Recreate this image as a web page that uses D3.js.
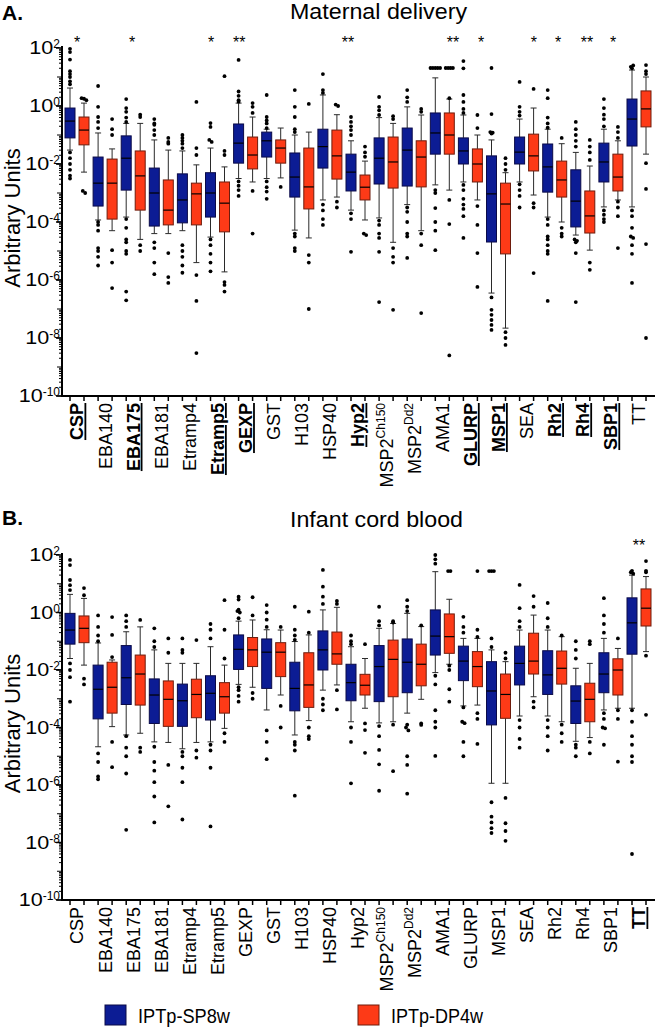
<!DOCTYPE html>
<html><head><meta charset="utf-8">
<script src="https://cdn.jsdelivr.net/npm/d3@7"></script>
<style>
body{margin:0;background:#fff;}
svg{display:block;font-family:"Liberation Sans",Arial,sans-serif;}
</style></head>
<body>
<svg id="chart" width="657" height="1029"></svg>
<script>
// ---------------- DATA (values are log10 of Arbitrary Units) ----------------
const categories = ["CSP","EBA140","EBA175","EBA181","Etramp4","Etramp5","GEXP","GST","H103","HSP40","Hyp2","MSP2Ch150","MSP2Dd2","AMA1","GLURP","MSP1","SEA","Rh2","Rh4","SBP1","TT"];
const groups = ["IPTp-SP8w","IPTp-DP4w"];
const yTickExponents = [2,0,-2,-4,-6,-8,-10];

// box stats: [whisker low, Q1, median, Q3, whisker high]
const maternalSP = [
[-1.52,-1.1,-0.52,-0.07,0.62],[-3.93,-3.45,-2.66,-1.76,-0.93],[-3.83,-2.9,-1.8,-1.03,-0.6],[-4.4,-4.14,-3.0,-2.14,-1.17],
[-4.3,-4.03,-3.24,-2.34,-1.55],[-4.52,-3.83,-3.0,-2.3,-1.45],[-2.5,-1.97,-1.28,-0.62,0.1],[-2.5,-1.76,-1.2,-0.9,-0.8],
[-4.28,-3.14,-2.45,-1.62,-1.0],[-3.24,-2.14,-1.4,-0.8,0.38],[-3.59,-2.93,-2.28,-1.66,-1.2],[-3.86,-2.69,-1.8,-1.1,-0.4],
[-3.4,-2.76,-1.52,-0.76,-0.03],[-2.72,-1.66,-0.93,-0.24,0.97],[-2.62,-2.0,-1.55,-1.1,-0.31],[-6.45,-4.69,-3.03,-1.72,-1.17],
[-2.62,-2.0,-1.59,-1.07,-0.45],[-3.83,-2.97,-2.1,-1.31,-0.8],[-4.45,-4.17,-3.28,-2.2,-1.6],[-3.48,-2.62,-1.93,-1.28,-0.8],
[-3.48,-1.38,-0.45,0.24,1.24]];
const maternalDP = [
[-2.28,-1.34,-0.83,-0.38,0.1],[-4.3,-3.9,-2.66,-1.83,-1.48],[-4.6,-3.59,-2.41,-1.55,-0.6],[-4.4,-4.1,-3.59,-2.55,-1.52],
[-5.4,-4.1,-3.03,-2.66,-2.03],[-5.72,-4.34,-3.35,-2.62,-2.1],[-2.62,-2.17,-1.69,-1.07,-0.38],[-2.48,-1.97,-1.45,-1.17,-0.76],
[-4.55,-3.55,-2.79,-1.45,-0.9],[-3.14,-2.52,-1.72,-0.83,-0.3],[-3.93,-3.24,-2.8,-2.38,-1.9],[-4.7,-2.83,-1.93,-1.07,-0.6],
[-4.3,-2.79,-1.76,-1.2,-0.31],[-2.9,-1.66,-1.0,-0.24,0.24],[-3.24,-2.62,-2.0,-1.48,-1.0],[-7.66,-5.1,-3.38,-2.66,-2.3],
[-3.07,-2.24,-1.72,-0.97,-0.07],[-4.0,-3.14,-2.55,-1.9,-1.3],[-4.97,-4.38,-3.79,-2.93,-2.07],[-3.24,-2.93,-2.45,-1.66,-1.2],
[-1.66,-0.72,-0.1,0.52,1.0]];
const maternalSPOut = [
[1.97,1.86,1.6,1.2,1.1,1.0,0.85,0.75,-1.6,-1.8,-2.0,-2.2,-2.4,-2.5],[0.69,-0.03,-0.38,-0.55,-0.76,-4.0,-4.1,-4.3,-4.9,-5.0,-5.2,-5.5],
[0.24,-0.07,-0.2,-0.4,-0.55,-3.9,-4.2,-4.6,-4.7,-5.0,-5.1,-6.4,-6.7],[-0.45,-0.6,-0.65,-0.83,-1.0,-4.7,-4.9,-5.4,-5.8],
[-1.0,-1.1,-1.2,-1.3,-1.45,-4.8,-5.0,-5.2,-5.5,-5.75],[-0.59,-0.72,-1.17,-1.24,-4.6,-4.8,-5.1,-5.4,-5.7],
[1.59,0.5,0.35,0.2,0.15,-2.6,-2.75,-2.9,-3.1],[0.38,-0.38,-0.5,-0.6,-0.76,-2.6,-2.8,-2.95,-3.2],
[0.55,-0.03,-0.38,-0.8,-0.9,-4.4,-4.5,-4.9,-5.0],[1.1,0.55,0.45,-3.4,-3.6,-3.9,-4.1],
[-0.38,-0.55,-0.7,-0.83,-1.0,-3.7,-3.9,-5.03],[0.31,-0.03,-0.15,-0.31,-3.95,-4.1,-4.4,-4.55,-5.03,-6.76],
[0.55,0.3,0.14,-3.5,-3.65,-4.0,-4.4,-4.5,-5.24],[1.31,1.31,1.31,1.31,1.31,-2.9,-3.0,-3.52,-4.0,-4.3,-4.97],
[1.55,1.3,0.38,0.14,-0.1,-0.24,-2.72,-2.9,-3.2,-3.4,-3.55,-3.8,-4.55],[1.31,-0.28,-0.9,-0.92,-0.95,-6.6,-7.03,-7.2,-7.38,-7.55,-7.72],
[0.83,-0.03,-0.2,-0.33,-2.7,-2.9,-3.1,-3.5],[0.55,0.27,-0.4,-0.6,-0.75,-3.9,-4.1,-4.5,-4.6,-4.8,-5.0,-5.1,-6.72],
[-0.55,-0.8,-1.0,-1.2,-1.4,-4.6,-4.65,-4.7,-5.07,-6.76],[0.24,-0.07,-0.3,-0.45,-0.7,-3.6,-3.75,-3.9,-4.0],
[1.3,1.35,1.4,-3.6,-3.8,-4.2,-4.5,-4.55,-4.8,-5.1,-6.1]];
const maternalDPOut = [
[0.27,0.25,0.2,-2.93,-3.0],[-0.45,-0.8,-1.0,-4.97,-5.4,-6.28],[-0.3,-0.38,-4.8,-5.0],[-1.1,-1.24,-1.3,-5.07,-5.9,-6.1],
[0.14,-1.45,-1.69,-5.83,-6.72,-8.52],[1.03,-1.55,-1.69,-6.07,-6.17,-6.4],[0.1,-0.03,-0.24,-2.93,-4.4],[-2.79],
[0.07,-5.14,-5.4,-7.0],[0.05,0.0,-3.3,-3.5],[-1.4,-1.6,-1.75,-4.4,-4.45],[-0.35,-0.45,-4.9,-5.2,-5.4,-7.03],
[-0.1,-0.2,-4.4,-4.8,-7.14],[1.31,1.31,1.31,1.31,0.27,-3.24,-4.07,-8.6],[-0.31,-0.76,-3.45,-4.1,-5.07,-6.24],[-1.8,-2.0,-2.2,-7.8,-8.0,-8.24],
[0.59,-3.35,-3.5,-5.76],[-1.1,-4.2,-4.4,-4.5],[-1.17,-1.4,-1.6,-1.86,-5.4,-5.65],[-0.72,-0.9,-1.1,-3.3,-3.5,-3.8,-4.9],
[1.41,1.2,1.1,-1.97,-2.86,-4.76,-8.0]];

const cordSP = [
[-1.6,-1.1,-0.61,-0.03,0.63],[-4.67,-3.7,-2.67,-1.83,-1.06],[-4.26,-3.2,-2.27,-1.15,-0.67],[-4.5,-3.86,-2.87,-2.31,-1.3],
[-4.74,-3.96,-3.07,-2.49,-1.77],[-4.5,-3.74,-2.81,-2.2,-1.19],[-2.5,-1.98,-1.28,-0.78,-0.3],[-3.39,-2.64,-1.38,-0.92,-0.6],
[-4.26,-3.42,-2.64,-1.73,-1.01],[-2.7,-2.0,-1.3,-0.64,0.09],[-3.8,-3.07,-2.44,-1.8,-1.19],[-3.84,-3.1,-1.88,-1.15,-0.55],
[-3.5,-2.79,-1.73,-0.92,-0.03],[-2.09,-1.48,-0.82,0.09,1.42],[-3.25,-2.37,-1.69,-1.17,-0.9],[-5.94,-3.91,-2.73,-1.71,-1.3],
[-3.6,-2.52,-1.77,-1.17,-0.61],[-3.6,-2.85,-2.17,-1.33,-0.61],[-4.48,-3.86,-3.08,-2.55,-1.94],[-3.39,-2.79,-2.14,-1.4,-0.9],
[-3.33,-1.45,-0.36,0.51,1.3]];
const cordDP = [
[-1.83,-1.05,-0.55,-0.12,0.49],[-3.97,-3.5,-2.6,-1.73,-1.65],[-4.2,-3.22,-2.14,-1.48,-0.5],[-4.52,-3.96,-3.02,-2.38,-1.77],
[-4.52,-3.66,-2.85,-2.32,-1.77],[-4.03,-3.5,-2.93,-2.44,-1.83],[-2.6,-1.88,-1.3,-0.87,-0.26],[-2.87,-2.23,-1.38,-1.05,-0.61],
[-3.76,-3.3,-2.52,-1.4,-0.78],[-2.52,-1.8,-1.44,-0.68,0.18],[-3.33,-2.87,-2.53,-2.15,-1.6],[-3.8,-2.93,-1.63,-0.96,-0.38],
[-3.02,-2.55,-1.8,-1.1,-0.49],[-1.8,-1.42,-0.84,-0.05,0.46],[-3.22,-2.58,-1.88,-1.36,-0.9],[-5.94,-3.68,-2.85,-2.14,-1.71],
[-2.93,-2.14,-1.69,-0.72,-0.09],[-3.8,-2.49,-1.94,-1.34,-0.84],[-4.35,-3.8,-3.02,-2.46,-1.77],[-3.33,-2.87,-2.0,-1.61,-1.25],
[-1.36,-0.47,0.15,0.82,1.25]];
const cordSPOut = [
[1.83,1.65,1.13,0.95,0.78,-1.77,-2.0,-2.25,-3.1],[-0.1,-0.5,-0.8,-1.0,-4.9,-5.2,-5.7,-5.8],[-0.1,-0.3,-0.5,-4.3,-4.7,-5.0,-5.6,-7.56],
[-0.55,-1.0,-1.2,-4.67,-5.2,-5.5,-5.9,-6.4,-7.3],[-0.9,-1.3,-1.4,-4.85,-5.0,-5.4,-5.9,-7.2],[-0.4,-0.6,-0.9,-4.6,-4.8,-5.4,-7.44],
[0.55,0.45,0.1,0.05,0.0,-0.2,-2.6,-2.7,-2.9,-3.1],[0.26,0.0,-0.25,-0.5,-4.1,-4.5,-5.1],[0.2,-0.6,-0.8,-0.95,-4.5,-4.6,-4.8,-6.37],
[1.48,0.9,0.55,0.3,-3.0,-3.2,-3.4],[-0.8,-1.0,-1.1,-4.0,-4.5,-5.94],[0.2,-0.3,-0.45,-3.95,-4.3,-4.78,-5.28,-6.2],
[0.43,0.2,0.05,-3.9,-4.0,-4.1,-5.0,-5.3,-6.3],[2.0,1.85,1.7,-2.2,-2.5,-3.4,-3.8,-4.0,-4.99],[-0.15,-0.5,-0.7,-3.3,-3.8,-3.85,-4.5,-5.0],
[1.44,1.44,1.44,-0.9,-1.2,-6.6,-7.1,-7.3,-7.5,-7.67],[0.96,0.15,-0.3,-0.5,-3.74,-4.0,-4.4,-4.7],[0.33,-0.2,-0.5,-3.74,-4.0,-4.3,-4.8],
[-1.0,-1.3,-1.6,-4.6,-4.7,-5.0],[0.5,-0.1,-0.4,-0.7,-3.5,-3.7,-4.0,-4.03,-4.6],[1.4,1.35,1.45,-3.4,-3.8,-4.3,-4.6,-5.0,-5.2,-8.4]];
const cordDPOut = [
[0.85,0.6,-2.3,-2.5],[-0.16,-0.78,-1.55,-4.5,-5.38],[-0.26,-4.7,-4.85],[-0.9,-1.4,-5.3,-6.74],[-0.96,-4.8,-5.05],
[0.43,-0.6,-1.6,-4.2,-4.5],[0.53,-0.1,-2.8,-3.0],[-0.5,-3.25,-4.0],[0.03,-0.7,-4.0,-4.3,-4.4],[0.4,0.3,-2.7,-3.37],
[-1.1,-3.86,-4.09,-4.88],[-0.3,-0.35,-3.9,-5.52],[-0.45,-3.86,-3.91],[1.44,1.44,-1.85,-2.0,-2.67,-3.1],[1.44,-0.6,-0.85,-3.5,-3.7,-4.57],
[-1.4,-1.6,-6.45,-7.33,-7.6,-7.94],[0.57,0.2,-3.1,-3.3],[-0.8,-3.9,-4.2,-4.5],[-1.0,-1.1,-4.5,-4.9],[-0.9,-3.4,-3.7,-5.19],
[1.79,1.45,1.4,-1.5,-3.56]];

const boldA = ["CSP","EBA175","Etramp5","GEXP","Hyp2","GLURP","MSP1","Rh2","Rh4","SBP1"];
const boldB = ["TT"];
// star annotations: position in category-index units
const starsA = [{pos:0,t:"*"},{pos:1.96,t:"*"},{pos:4.77,t:"*"},{pos:5.77,t:"**"},{pos:9.64,t:"**"},{pos:13.38,t:"**"},{pos:14.38,t:"*"},{pos:16.26,t:"*"},{pos:17.12,t:"*"},{pos:18.15,t:"**"},{pos:19.08,t:"*"}];
const starsB = [{pos:20,t:"**"}];

// ---------------- DRAWING ----------------
const svg = d3.select("#chart");
const colors = {fill:["#0c1c94","#fd3a17"], stroke:["#0a0a48","#6e1c0c"]};
const axisX0 = 62, axisX1 = 655;
const x = d3.scalePoint().domain(categories).range([77, 639]);
const posScale = d3.scaleLinear().domain([0, categories.length-1]).range([77, 639]);
const boxOff = [-7, 7], boxW = 10, capW = 6;

function panel(cfg){
  const g = svg.append("g");
  const y = d3.scaleLog().domain([1e-10, 1e2]).range([cfg.bottom, cfg.top]);
  const v = e => Math.pow(10, e);

  // panel letter & title
  g.append("text").attr("x",2).attr("y",cfg.letterY).attr("font-size",21).attr("font-weight","bold").text(cfg.letter);
  g.append("text").attr("x",cfg.titleX).attr("y",cfg.titleY).attr("font-size",22)
    .attr("textLength",cfg.titleW).attr("lengthAdjust","spacingAndGlyphs").text(cfg.title);
  // y title
  g.append("text").attr("transform",`translate(20,${(cfg.top+cfg.bottom)/2 - 4}) rotate(-90)`)
    .attr("text-anchor","middle").attr("font-size",22).text("Arbitrary Units");

  // boxes
  [cfg.sp, cfg.dp].forEach((data, gi) => {
    const outs = gi===0 ? cfg.spOut : cfg.dpOut;
    categories.forEach((c, i) => {
      const [wl,q1,md,q3,wh] = data[i].map(v);
      const cx = x(c) + boxOff[gi];
      const gg = g.append("g");
      const wcol = "#2a2a2a";
      gg.append("line").attr("x1",cx).attr("x2",cx).attr("y1",y(wh)).attr("y2",y(q3)).attr("stroke",wcol).attr("stroke-width",1);
      gg.append("line").attr("x1",cx).attr("x2",cx).attr("y1",y(q1)).attr("y2",y(wl)).attr("stroke",wcol).attr("stroke-width",1);
      gg.append("line").attr("x1",cx-capW/2).attr("x2",cx+capW/2).attr("y1",y(wh)).attr("y2",y(wh)).attr("stroke",wcol);
      gg.append("line").attr("x1",cx-capW/2).attr("x2",cx+capW/2).attr("y1",y(wl)).attr("y2",y(wl)).attr("stroke",wcol);
      gg.append("rect").attr("x",cx-boxW/2).attr("y",y(q3)).attr("width",boxW).attr("height",y(q1)-y(q3))
        .attr("fill",colors.fill[gi]).attr("stroke",colors.stroke[gi]).attr("stroke-width",1);
      gg.append("line").attr("x1",cx-boxW/2).attr("x2",cx+boxW/2).attr("y1",y(md)).attr("y2",y(md)).attr("stroke","#000").attr("stroke-width",1.2);
      // outliers: identical values spread horizontally
      const pts = outs[i].map(e => y(v(e)));
      const bins = d3.groups(pts, p => Math.round(p/3));
      bins.forEach(([k, arr]) => {
        arr.forEach((p, j) => {
          const off = (j - (arr.length-1)/2) * 2.4;
          gg.append("circle").attr("cx",cx+off).attr("cy",p).attr("r",1.9).attr("fill","#000");
        });
      });
    });
  });

  // y axis
  g.append("line").attr("x1",axisX0).attr("x2",axisX0).attr("y1",cfg.top-2).attr("y2",cfg.bottom).attr("stroke","#000").attr("stroke-width",2);
  for (let e=-10; e<2; e++){
    for (let m=1; m<10; m++){
      const val = m*Math.pow(10,e);
      const len = m===1 ? 5 : 3;
      g.append("line").attr("x1",axisX0-len).attr("x2",axisX0).attr("y1",y(val)).attr("y2",y(val)).attr("stroke","#000").attr("stroke-width",1);
    }
  }
  yTickExponents.forEach(e => {
    const yy = y(v(e));
    g.append("line").attr("x1",axisX0-6).attr("x2",axisX0).attr("y1",yy).attr("y2",yy).attr("stroke","#000").attr("stroke-width",1.5);
    const ex = g.append("text").attr("x",60).attr("y",yy).attr("text-anchor","end").attr("font-size",12).text(String(e));
    const w = ex.node().getComputedTextLength();
    g.append("text").attr("x",60-w).attr("y",yy+6).attr("text-anchor","end").attr("font-size",18)
      .attr("textLength",24).attr("lengthAdjust","spacingAndGlyphs").text("10");
  });

  // x axis
  g.append("line").attr("x1",axisX0-1).attr("x2",axisX1).attr("y1",cfg.bottom).attr("y2",cfg.bottom).attr("stroke","#000").attr("stroke-width",2);
  categories.forEach(c => boxOff.forEach(o => {
    g.append("line").attr("x1",x(c)+o).attr("x2",x(c)+o).attr("y1",cfg.bottom).attr("y2",cfg.bottom+5).attr("stroke","#000").attr("stroke-width",1.5);
  }));
  categories.forEach(c => {
    const bold = cfg.bold.includes(c);
    const t = g.append("text").attr("transform",`translate(${x(c)},${cfg.bottom+7}) rotate(-90)`)
      .attr("text-anchor","end").attr("dy","0.36em").attr("font-size",18)
      .attr("font-weight", bold ? "bold" : "normal")
      .attr("text-decoration", bold ? "underline" : "none");
    const m = c.match(/^(MSP2)(.+)$/);
    if (m){ t.append("tspan").text(m[1]); t.append("tspan").attr("font-size",12).attr("dy","-0.6em").text(m[2]); }
    else t.text(c);
  });

  // stars
  cfg.stars.forEach(s => {
    g.append("text").attr("x",posScale(s.pos)).attr("y",cfg.starY).attr("text-anchor","middle").attr("font-size",16).attr("fill","#000").text(s.t);
  });
}

panel({letter:"A.", title:"Maternal delivery", letterY:20, titleX:290, titleY:19, titleW:177, top:48, bottom:396,
  sp:maternalSP, dp:maternalDP, spOut:maternalSPOut, dpOut:maternalDPOut, bold:boldA, stars:starsA, starY:48});
panel({letter:"B.", title:"Infant cord blood", letterY:525, titleX:290, titleY:527, titleW:173, top:555, bottom:900,
  sp:cordSP, dp:cordDP, spOut:cordSPOut, dpOut:cordDPOut, bold:boldB, stars:starsB, starY:551});

// legend
const leg = svg.append("g");
const legX = [105, 358];
groups.forEach((gname, i) => {
  leg.append("rect").attr("x",legX[i]).attr("y",1005).attr("width",21).attr("height",20).attr("fill",colors.fill[i]).attr("stroke",colors.stroke[i]);
  leg.append("text").attr("x",legX[i]+33).attr("y",1023).attr("font-size",20)
    .attr("textLength",92).attr("lengthAdjust","spacingAndGlyphs").text(gname);
});
</script>
</body></html>
